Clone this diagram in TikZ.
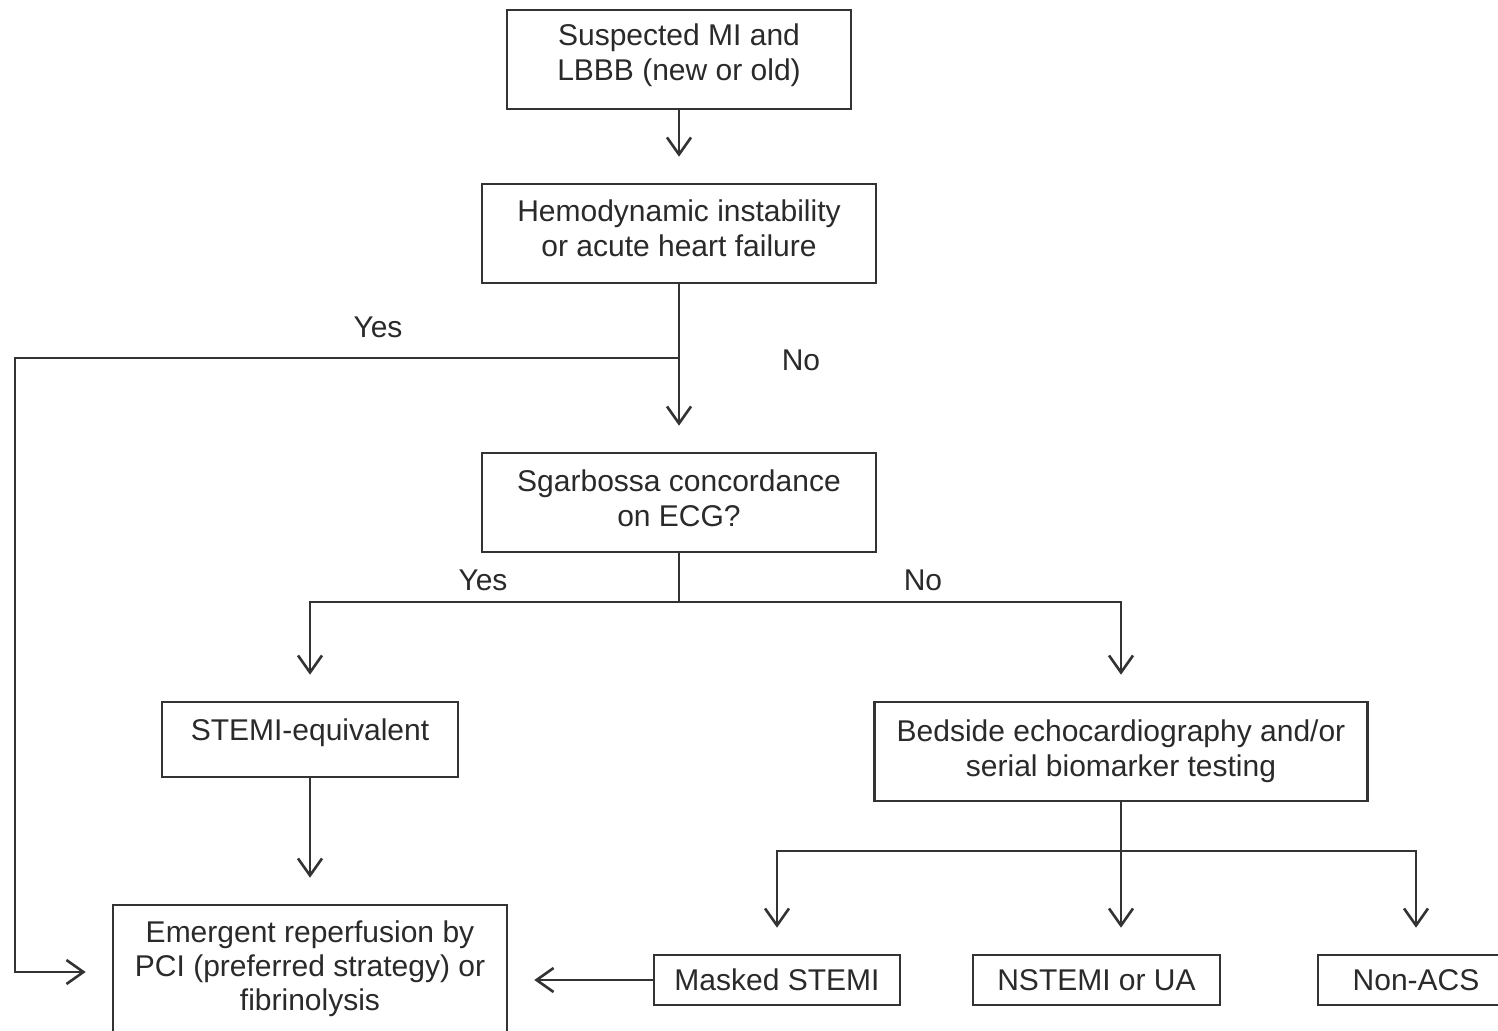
\documentclass[tikz,border=0pt]{standalone}
\usepackage{fontspec}
\setmainfont{Liberation Sans}
\usetikzlibrary{arrows.meta}
\definecolor{ln}{HTML}{333333}
\definecolor{tx}{HTML}{2A2A2A}
\tikzset{
  box/.style={draw=ln, line width=2.6pt, rectangle, inner sep=0pt, align=center,
    text=tx, font=\fontsize{30}{35}\selectfont},
  arr/.style={draw=ln, line width=2.6pt, line join=miter, -{Straight Barb[length=17pt,width=24pt]}, shorten >=26pt},
  plain/.style={draw=ln, line width=2.6pt},
  lbl/.style={text=tx, font=\fontsize{30}{35}\selectfont, inner sep=0pt}
}
\begin{document}
\begin{tikzpicture}[x=1pt,y=-1pt]
\useasboundingbox (0,0) rectangle (1498,1030);
\clip (0,0) rectangle (1498,1030);
\fill[white] (0,0) rectangle (1498,1030);
\node[box, minimum width=344pt, minimum height=99pt, text depth=14pt] (b1) at (679,59.5) {Suspected MI and\\LBBB (new or old)};
\node[box, minimum width=394pt, minimum height=99pt, text depth=11pt] (b2) at (679,233.5) {Hemodynamic instability\\or acute heart failure};
\node[box, minimum width=394pt, minimum height=99pt, text depth=9pt] (b3) at (679,502.5) {Sgarbossa concordance\\on ECG?};
\node[box, minimum width=296pt, minimum height=75pt, text depth=20pt] (b4) at (310,739.5) {STEMI-equivalent};
\node[box, minimum width=493pt, minimum height=99pt, text depth=7pt] (b5) at (1121,751.5) {Bedside echocardiography and/or\\serial biomarker testing};
\node[box, minimum width=394pt, minimum height=128pt, font=\fontsize{30}{34}\selectfont] (b6) at (310,969) {Emergent reperfusion by\\PCI (preferred strategy) or\\fibrinolysis};
\node[box, minimum width=246pt, minimum height=50pt] (b7) at (777,980) {Masked STEMI};
\node[box, minimum width=247pt, minimum height=50pt] (b8) at (1096.5,980) {NSTEMI or UA};
\node[box, minimum width=196pt, minimum height=50pt] (b9) at (1416,980) {Non-ACS};

\coordinate (j1) at (679,358);
\coordinate (c1) at (15,358);
\coordinate (c2) at (15,972);
\coordinate (j2) at (679,602);
\coordinate (j3) at (1121,851);

\draw[arr] (b1.south) -- (b2.north);
\draw[arr] (b2.south) -- (b3.north);
\draw[arr] (j1) -- (c1) -- (c2) -- (c2 -| b6.west);
\draw[plain] (b3.south) -- (j2);
\draw[arr] (j2) -| (b4.north);
\draw[arr] (j2) -| (b5.north);
\draw[arr] (b4.south) -- (b6.north);
\draw[plain] (b5.south) -- (j3);
\draw[arr] (j3) -- (j3 |- b8.north);
\draw[arr] (j3) -| (b7.north);
\draw[arr] (j3) -| (b9.north);
\draw[arr] (b7.west) -- (b7.west -| b6.east);

\node[lbl] (y1) at (378,327) {Yes};
\node[lbl] (n1) at (801,360) {No};
\node[lbl] (y2) at (483,580) {Yes};
\node[lbl] (n2) at (923,580) {No};
\end{tikzpicture}
\end{document}
